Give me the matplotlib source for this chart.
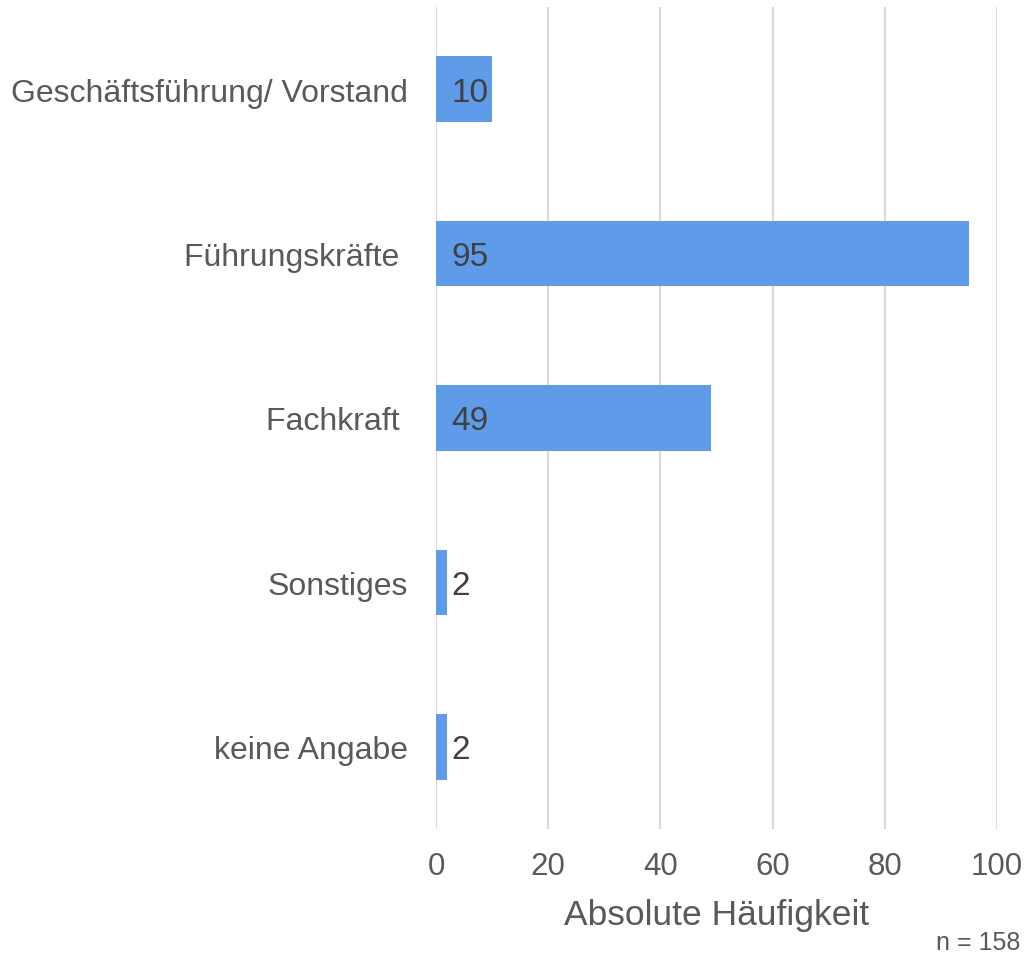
import matplotlib
matplotlib.use("Agg")
import matplotlib.pyplot as plt

categories = ["Geschäftsführung/ Vorstand", "Führungskräfte ", "Fachkraft ", "Sonstiges", "keine Angabe"]
values = [10, 95, 49, 2, 2]
xticks = [0, 20, 40, 60, 80, 100]
xlabel = "Absolute Häufigkeit"
note = "n = 158"

plt.rcParams['font.family'] = ['Liberation Sans', 'DejaVu Sans']

fig = plt.figure(figsize=(10.28, 9.54), dpi=100)
ax = fig.add_axes([436/1028, 1-830/954, 561/1028, 822/954])

ypos = list(range(len(categories)))
ax.barh(ypos, values, height=0.4, color='#5E9CEA', zorder=3)
ax.set_ylim(len(categories)-0.5, -0.5)
ax.set_xlim(0, 100)
ax.set_xticks(xticks)
ax.set_xticklabels([str(t) for t in xticks], fontsize=22.5, color='#595959')
ax.set_yticks(ypos)
ax.set_yticklabels(categories, fontsize=23, color='#595959')
ax.tick_params(axis='both', length=0)
ax.tick_params(axis='x', pad=16)
ax.tick_params(axis='y', pad=20)
ax.grid(axis='x', color='#D9D9D9', linewidth=1.5, zorder=0)
for s in ax.spines.values():
    s.set_visible(False)
ax.set_xlabel(xlabel, fontsize=25.5, color='#595959', labelpad=12)

for y, v in zip(ypos, values):
    ax.annotate(str(v), xy=(0, y), xytext=(15, -3), textcoords='offset pixels',
                ha='left', va='center', fontsize=24, color='#404040', zorder=4)

fig.text(1020/1028, 1-943/954, note, ha='right', va='center', fontsize=18, color='#595959')

fig.savefig('out.png', dpi=100)
